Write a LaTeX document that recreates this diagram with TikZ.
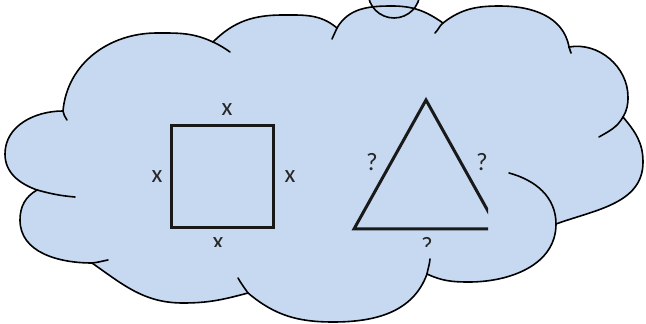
\documentclass[tikz,border=0pt]{standalone}
\usepackage{fontspec}
\setmainfont{Carlito}
\definecolor{cloudblue}{HTML}{C6D9F1}
\tikzset{
	cloudline/.style={
			draw=black,
			line width=1.6pt,
			line cap=round
		},
	shapeline/.style={
			draw=black!90,
			line width=3pt,
			inner sep=0pt
		},
	sidelabel/.style={
			inner sep=0pt,
			text=black!85,
			font=\fontsize{25}{30}\selectfont
		}
}
\newcommand{\cloudpath}{(j1) to[out=85,in=180] (p2) to[out=0,in=155] (j2)
  to[out=45,in=180] (p3) to[out=0,in=140] (j3)
  to[out=60,in=180] (p4) to[out=0,in=145] (j4)
  to[out=38,in=180] (p5) to[out=0,in=100] (j5)
  to[out=10,in=90] (p6) to[out=-90,in=60] (j6)
  to[out=-50,in=90] (p7) to[out=-90,in=20] (j7)
  to[out=-90,in=0] (p8) to[out=180,in=-25] (j8)
  to[out=-110,in=0] (p9) to[out=180,in=-40] (j9)
  to[out=-165,in=0] (p10) to[out=180,in=-35] (j10)
  to[out=180,in=-90] (p0) to[out=90,in=210] (j11)
  to[out=160,in=-90] (p1) to[out=90,in=180] (j1) -- cycle}

\begin{document}
\begin{tikzpicture}[x=1pt,y=1pt]

  \useasboundingbox (0,0) rectangle (646,324);
  \clip (0,0) rectangle (646,324);

  % junctions and bump extremes of the cloud
  \coordinate (j1) at (63,213);   \coordinate (p2) at (157,291);
  \coordinate (j2) at (213,282);  \coordinate (p3) at (283,309);
  \coordinate (j3) at (337,296);  \coordinate (p4) at (392,318);
  \coordinate (j4) at (443,301);  \coordinate (p5) at (500,318);
  \coordinate (j5) at (569,277);  \coordinate (p6) at (628,227);
  \coordinate (j6) at (623,207);  \coordinate (p7) at (643,162);
  \coordinate (j7) at (556,100);  \coordinate (p8) at (469,42);
  \coordinate (j8) at (427,50);   \coordinate (p9) at (333,2);
  \coordinate (j9) at (248,31);   \coordinate (p10) at (183,21);
  \coordinate (j10) at (92,61);   \coordinate (p0) at (20,104);
  \coordinate (j11) at (37,134);  \coordinate (p1) at (5,170);

  \fill[cloudblue] \cloudpath;
  \fill[cloudblue] (394,332) circle[radius=26];
  \draw[cloudline] \cloudpath;
  \draw[cloudline] (394,332) circle[radius=26];

  % inner ends of the bumps
  \coordinate (t1) at (67,204);   \coordinate (t2) at (230,272);
  \coordinate (t3) at (332,285);  \coordinate (t4) at (435,291);
  \coordinate (t5) at (571,271);  \coordinate (t6) at (599,187);
  \coordinate (t7) at (509,151);  \coordinate (t8) at (430,65);
  \coordinate (t9) at (238,46);   \coordinate (t10) at (108,64);
  \coordinate (t11) at (75,127);

  \draw[cloudline] (j1) to[out=-95,in=110] (t1);
  \draw[cloudline] (j2) to[out=-25,in=145] (t2);
  \draw[cloudline] (j3) -- (t3);
  \draw[cloudline] (j4) to[out=220,in=45] (t4);
  \draw[cloudline] (j5) -- (t5);
  \draw[cloudline] (j6) to[out=-120,in=30] (t6);
  \draw[cloudline] (j7) to[out=90,in=-15] (t7);
  \draw[cloudline] (j8) to[out=80,in=-95] (t8);
  \draw[cloudline] (j9) to[out=125,in=-60] (t9);
  \draw[cloudline] (j10) to[out=5,in=190] (t10);
  \draw[cloudline] (j11) to[out=-15,in=175] (t11);

  \begin{scope}
    \clip (130,77) rectangle (488,240);

    \node[shapeline, draw, minimum size=102pt] (sq) at (222.5,147.5) {};
    \node[sidelabel] (xtop) at (227,214) {x};
    \node[sidelabel] (xleft) at (157,147) {x};
    \node[sidelabel] (xright) at (290,147) {x};
    \node[sidelabel] (xbottom) at (218,80) {x};

    \coordinate (ta) at (426,224);
    \coordinate (tl) at (354,95);
    \coordinate (tr) at (498,95);
    \draw[shapeline] (tl) -- (ta) -- (tr) -- cycle;
    \node[sidelabel] (qleft) at (372,162) {?};
    \node[sidelabel] (qright) at (482,162) {?};
    \node[sidelabel] (qbottom) at (427,78) {?};
  \end{scope}

\end{tikzpicture}
\end{document}
